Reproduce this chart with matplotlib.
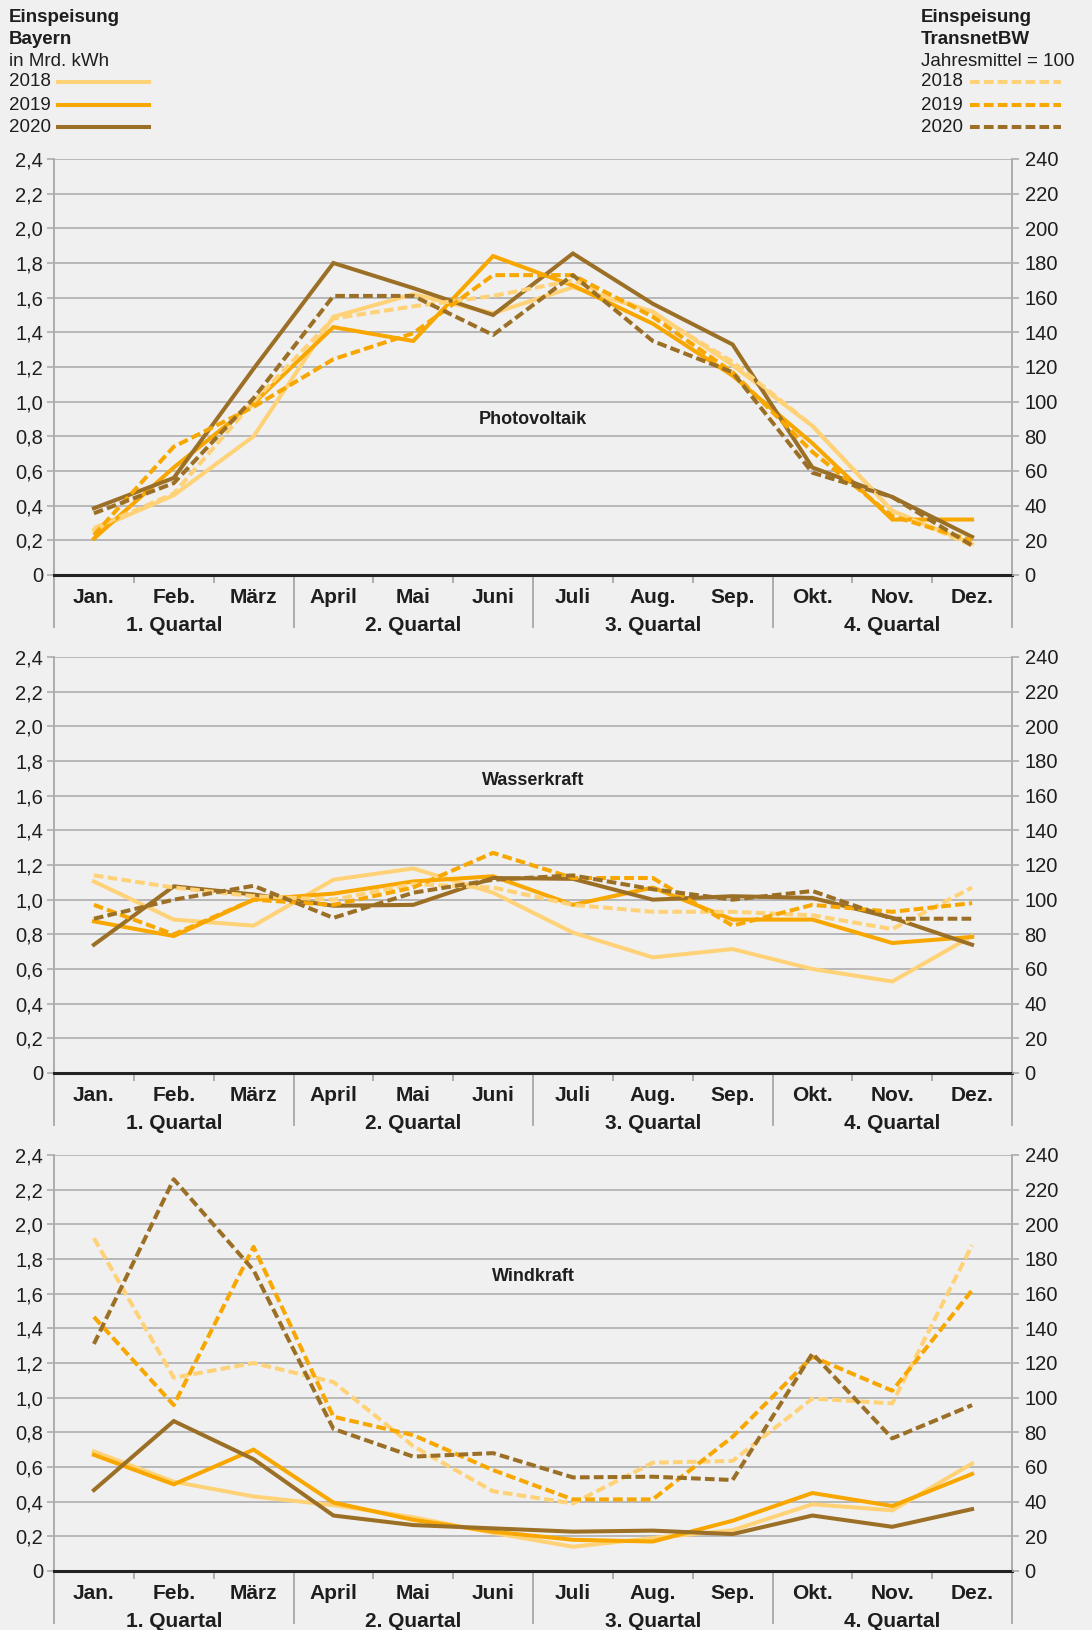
import matplotlib.pyplot as plt
from matplotlib.lines import Line2D
import numpy as np

plt.rcParams['font.family'] = ['Liberation Sans', 'DejaVu Sans']

W, H = 1092, 1630

months = ['Jan.', 'Feb.', 'März', 'April', 'Mai', 'Juni',
          'Juli', 'Aug.', 'Sep.', 'Okt.', 'Nov.', 'Dez.']
quarters = ['1. Quartal', '2. Quartal', '3. Quartal', '4. Quartal']
years = ['2018', '2019', '2020']
panel_titles = ['Photovoltaik', 'Wasserkraft', 'Windkraft']

left_ticks = ['0', '0,2', '0,4', '0,6', '0,8', '1,0', '1,2', '1,4', '1,6', '1,8', '2,0', '2,2', '2,4']
right_ticks = ['0', '20', '40', '60', '80', '100', '120', '140', '160', '180', '200', '220', '240']

# Einspeisung Bayern, Mrd. kWh
pv_2018 = [0.26, 0.46, 0.80, 1.49, 1.62, 1.51, 1.66, 1.52, 1.21, 0.86, 0.37, 0.18]
pv_2019 = [0.21, 0.62, 0.99, 1.43, 1.35, 1.84, 1.67, 1.45, 1.15, 0.76, 0.32, 0.32]
pv_2020 = [0.385, 0.56, 1.19, 1.80, 1.655, 1.50, 1.855, 1.565, 1.33, 0.62, 0.45, 0.22]
wa_2018 = [1.105, 0.885, 0.85, 1.115, 1.18, 1.04, 0.81, 0.667, 0.715, 0.60, 0.528, 0.79]
wa_2019 = [0.875, 0.79, 1.0, 1.035, 1.105, 1.135, 0.97, 1.07, 0.885, 0.885, 0.75, 0.785]
wa_2020 = [0.74, 1.077, 1.03, 0.965, 0.97, 1.125, 1.12, 1.0, 1.02, 1.01, 0.895, 0.74]
wi_2018 = [0.69, 0.515, 0.43, 0.38, 0.31, 0.22, 0.14, 0.19, 0.235, 0.385, 0.35, 0.62]
wi_2019 = [0.67, 0.50, 0.70, 0.395, 0.295, 0.227, 0.18, 0.17, 0.29, 0.45, 0.375, 0.56]
wi_2020 = [0.467, 0.865, 0.645, 0.32, 0.265, 0.246, 0.227, 0.233, 0.213, 0.32, 0.255, 0.357]

# Einspeisung TransnetBW, Jahresmittel = 100
pv_idx_2018 = [27, 47, 100, 148, 155, 161, 170, 151, 123, 86, 37, 17]
pv_idx_2019 = [23, 74, 97, 124.5, 139.5, 173, 173, 149, 117, 71, 34, 20]
pv_idx_2020 = [35.6, 53, 102, 161, 161, 138.5, 173, 135, 117, 59, 45, 17]
wa_idx_2018 = [114, 107, 102, 100, 109, 107, 97, 93, 93, 91, 83, 107]
wa_idx_2019 = [97, 80, 100, 97, 107, 127, 112.5, 112.5, 85, 97, 93, 98]
wa_idx_2020 = [89, 100, 108, 89.5, 104, 111.5, 114, 106, 100, 105, 89, 89]
wi_idx_2018 = [192, 111.5, 120, 109, 72, 46, 39, 62.5, 63.5, 99.5, 96.7, 188]
wi_idx_2019 = [146.6, 95.7, 187, 89, 78.4, 58.2, 41.3, 41.3, 77.4, 123.6, 104, 162]
wi_idx_2020 = [131, 226, 173.5, 82, 66, 68, 54, 54.4, 52.5, 125.5, 76.5, 95.7]

solid_data = [[pv_2018, pv_2019, pv_2020],
              [wa_2018, wa_2019, wa_2020],
              [wi_2018, wi_2019, wi_2020]]
index_data = [[pv_idx_2018, pv_idx_2019, pv_idx_2020],
              [wa_idx_2018, wa_idx_2019, wa_idx_2020],
              [wi_idx_2018, wi_idx_2019, wi_idx_2020]]
title_y = [0.9, 1.685, 1.70]

colors = ['#ffd277', '#f8a700', '#9b7026']
bg = '#f0f0f0'
grid_c = '#adadad'
txt_c = '#1e1e1e'
LW = 2.9
DASH = (2.4, 1.05)

fig = plt.figure(figsize=(W / 100, H / 100), dpi=100, facecolor=bg)

ax_left, ax_right = 54, 1012
panel_tops = [159, 657, 1155]
panel_h = 416
x = np.arange(12) + 0.5

for p in range(3):
    top = panel_tops[p]
    ax = fig.add_axes([ax_left / W, 1 - (top + panel_h) / H,
                       (ax_right - ax_left) / W, panel_h / H])
    ax.set_facecolor(bg)
    ax2 = ax.twinx()
    ax.set_xlim(0, 12)
    ax.set_ylim(0, 2.4)
    ax2.set_ylim(0, 240)
    for a in (ax, ax2):
        for s in a.spines.values():
            s.set_visible(False)

    ax.set_yticks(np.arange(13) * 0.2)
    ax.set_yticklabels(left_ticks)
    ax2.set_yticks(np.arange(13) * 20)
    ax2.set_yticklabels(right_ticks)
    ax.tick_params(axis='y', length=5, width=1.2, color=grid_c, labelsize=14.5,
                   labelcolor=txt_c, pad=3)
    ax2.tick_params(axis='y', length=5, width=1.2, color=grid_c, labelsize=14.5,
                    labelcolor=txt_c, pad=4)
    ax.set_xticks([])
    ax.grid(axis='y', color=grid_c, linewidth=1.2)
    ax.set_axisbelow(True)

    # axis frame and quarter separators
    xt = ax.get_xaxis_transform()
    for xv in [0, 3, 6, 9, 12]:
        ax.add_line(Line2D([xv, xv], [1.0 if xv in (0, 12) else 0, -0.125], transform=xt,
                           color=grid_c, lw=1.4, clip_on=False, zorder=1))
    for xv in [1, 2, 4, 5, 7, 8, 10, 11]:
        ax.add_line(Line2D([xv, xv], [0, -0.016], transform=xt,
                           color=grid_c, lw=1.4, clip_on=False, zorder=1))
    ax.axhline(0, color='#222222', lw=2.2, zorder=5, clip_on=False)

    for i, m in enumerate(months):
        ax.text(x[i], -0.055, m, transform=xt, ha='center', va='center',
                fontsize=15, fontweight='bold', color=txt_c)
    for q, lab in enumerate(quarters):
        ax.text(q * 3 + 1.5, -0.122, lab, transform=xt, ha='center', va='center',
                fontsize=15, fontweight='bold', color=txt_c)

    for k in range(3):
        ax.plot(x, solid_data[p][k], color=colors[k], lw=LW, solid_joinstyle='miter',
                zorder=3)
        ax2.plot(x, index_data[p][k], color=colors[k], lw=LW, dashes=DASH, zorder=3)

    ax2.text(6, title_y[p] * 100, panel_titles[p], ha='center', va='center',
             fontsize=13, fontweight='bold', color=txt_c)

# headers and legends
def ftext(px, py, s, **kw):
    fig.text(px / W, 1 - py / H, s, va='center', color=txt_c, **kw)

ftext(9, 17, 'Einspeisung', fontsize=13.5, fontweight='bold')
ftext(9, 39, 'Bayern', fontsize=13.5, fontweight='bold')
ftext(9, 61, 'in Mrd. kWh', fontsize=13.5)
ftext(921, 17, 'Einspeisung', fontsize=13.5, fontweight='bold')
ftext(921, 39, 'TransnetBW', fontsize=13.5, fontweight='bold')
ftext(921, 61, 'Jahresmittel = 100', fontsize=13.5)

leg_y = [82, 105, 127]
for k, yr in enumerate(years):
    ftext(9, leg_y[k], yr, fontsize=13.5)
    ftext(921, leg_y[k], yr, fontsize=13.5)
    fig.add_artist(Line2D([58 / W, 149 / W], [1 - leg_y[k] / H] * 2,
                          transform=fig.transFigure, color=colors[k], lw=LW))
    fig.add_artist(Line2D([970 / W, 1061 / W], [1 - leg_y[k] / H] * 2,
                          transform=fig.transFigure, color=colors[k], lw=LW,
                          dashes=DASH))

fig.savefig('out.png', dpi=100, facecolor=bg)
